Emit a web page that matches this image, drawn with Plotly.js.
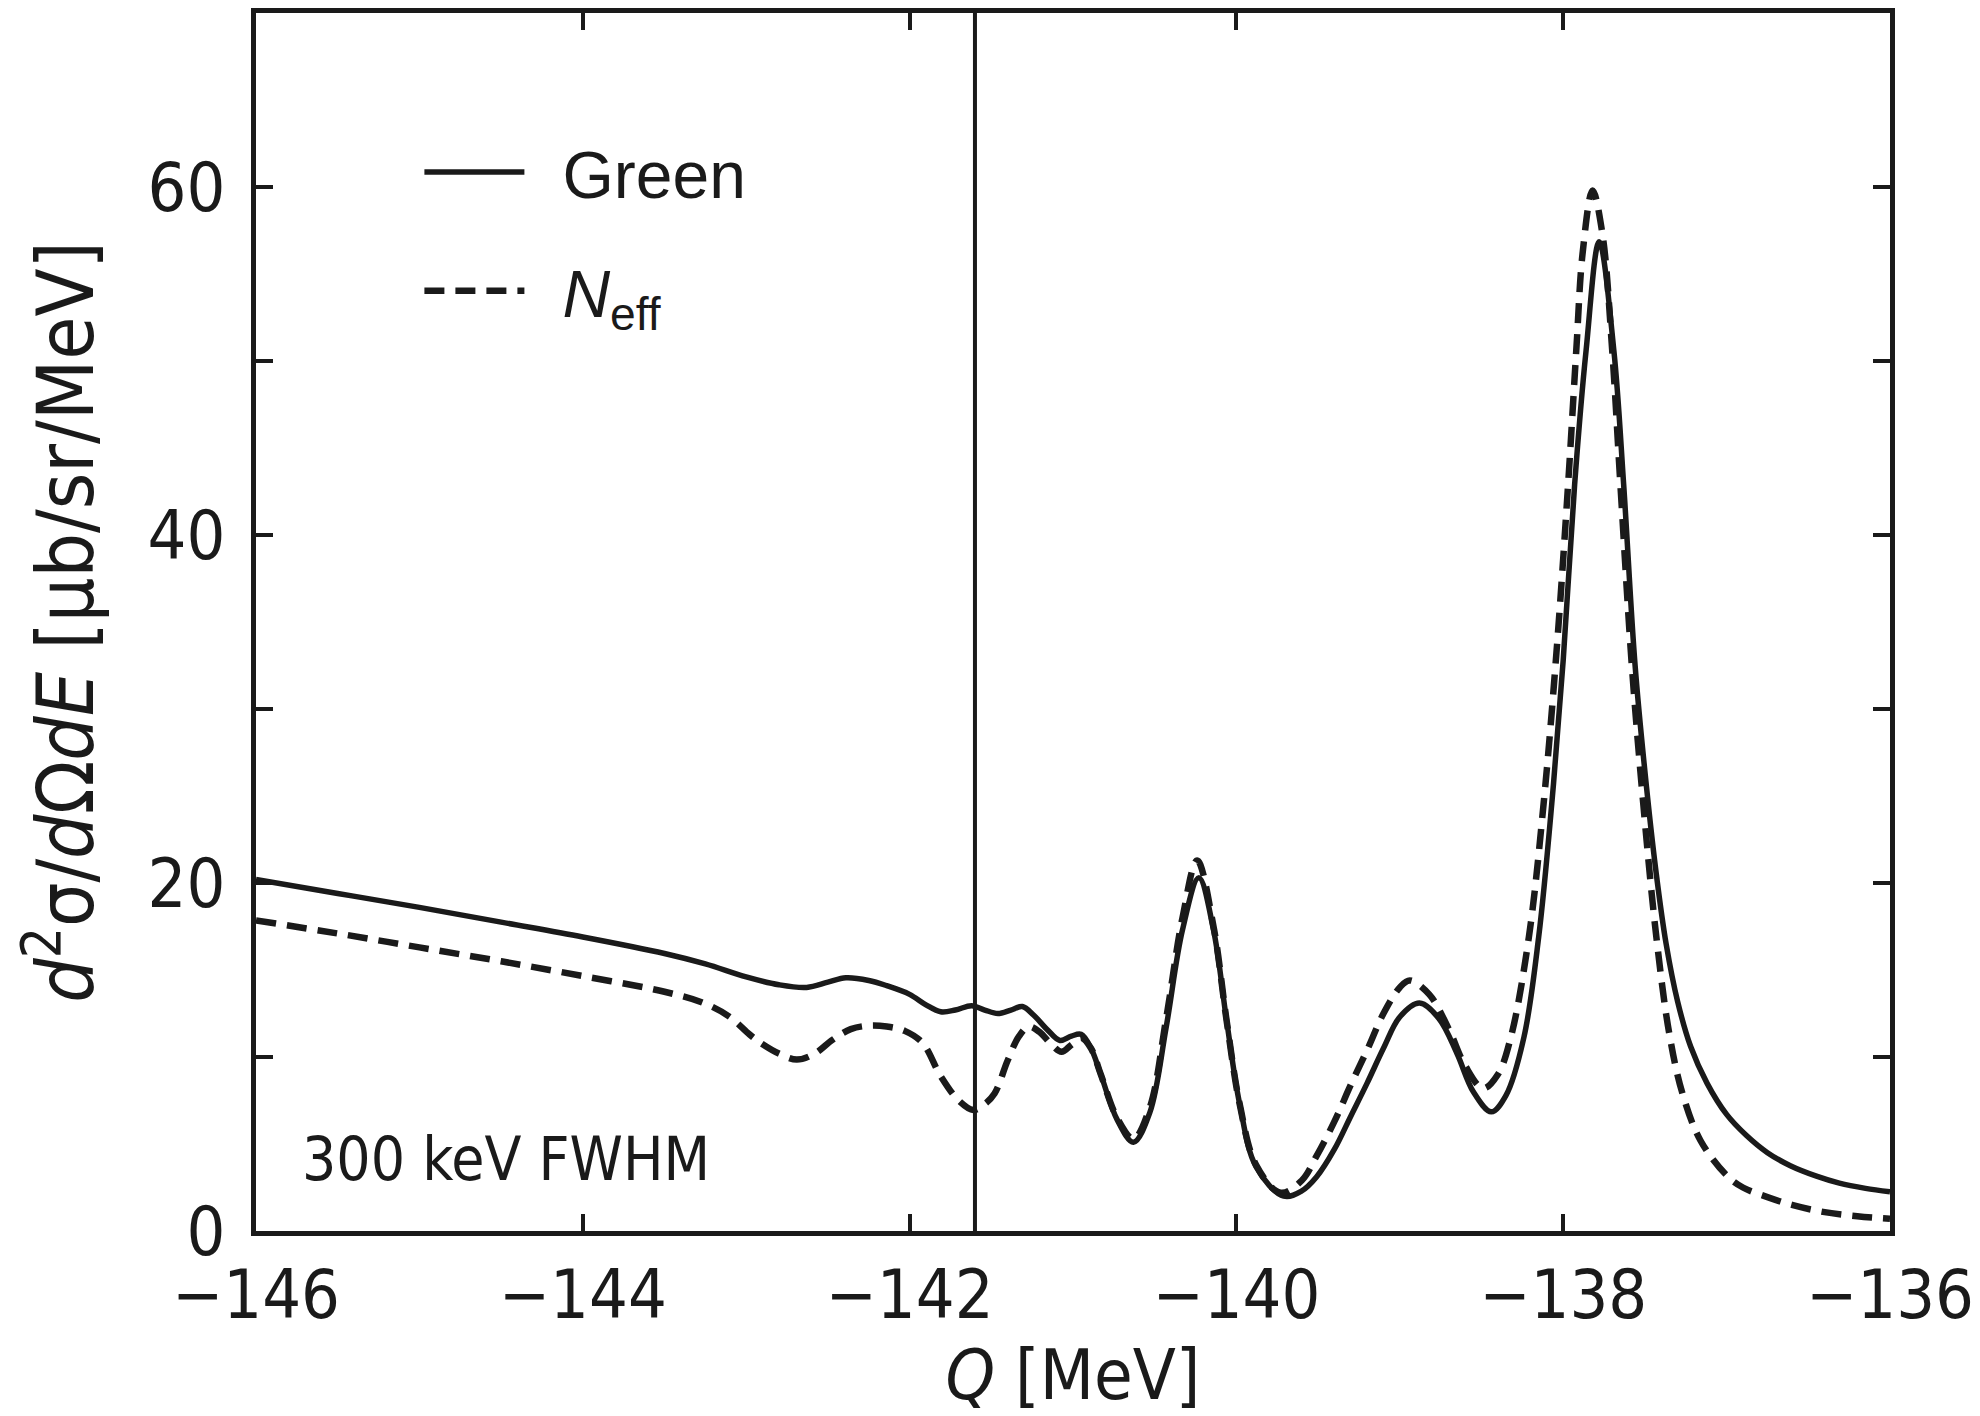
<!DOCTYPE html>
<html>
<head>
<meta charset="utf-8">
<script src="https://cdn.plot.ly/plotly-3.0.1.min.js"></script>
<style>
  html, body { margin: 0; padding: 0; background: #ffffff; }
  #chart { width: 1980px; height: 1416px; }
</style>
</head>
<body>
<div id="chart"></div>
<script>
// ---- Data ----
const greenQ = [-146.0, -145.5, -145.0, -144.5, -144.0, -143.5, -143.25, -143.0, -142.8, -142.63,
  -142.5, -142.39, -142.25, -142.14, -142.0, -141.9, -141.81, -141.72, -141.62, -141.54,
  -141.46, -141.38, -141.31, -141.24, -141.16, -141.08, -141.01, -140.95, -140.89, -140.83,
  -140.73, -140.63, -140.53, -140.43, -140.33, -140.23, -140.14, -140.06, -139.98, -139.88,
  -139.71, -139.6, -139.51, -139.4, -139.3, -139.2, -139.1, -139.0, -138.88, -138.76,
  -138.65, -138.55, -138.44, -138.35, -138.24, -138.15, -138.07, -138.0, -137.93, -137.86,
  -137.78, -137.69, -137.63, -137.56, -137.49, -137.43, -137.37, -137.3, -137.22, -137.12,
  -137.0, -136.88, -136.75, -136.61, -136.45, -136.31, -136.15, -136.0];
const greenY = [20.2, 19.4, 18.6, 17.75, 16.9, 15.95, 15.35, 14.6, 14.15, 14.0,
  14.3, 14.55, 14.4, 14.1, 13.6, 13.0, 12.6, 12.7, 12.95, 12.7,
  12.5, 12.7, 12.9, 12.4, 11.6, 10.95, 11.2, 11.3, 10.5, 9.0,
  6.4, 5.1, 6.8, 11.7, 17.3, 20.3, 17.3, 12.1, 7.3, 3.7,
  2.0, 2.3, 3.1, 4.7, 6.6, 8.5, 10.5, 12.3, 13.1, 12.2,
  10.2, 8.0, 6.85, 7.8, 11.15, 16.9, 24.55, 32.8, 42.9, 50.6,
  56.85, 50.6, 42.9, 32.5, 25.5, 20.5, 16.5, 13.2, 10.6, 8.5,
  6.7, 5.5, 4.5, 3.75, 3.15, 2.75, 2.45, 2.25];

const neffQ = [-146.0, -145.5, -145.0, -144.5, -144.0, -143.5, -143.26, -143.1, -142.98, -142.91,
  -142.8, -142.69, -142.58, -142.47, -142.36, -142.25, -142.14, -142.03, -141.92, -141.81,
  -141.7, -141.61, -141.54, -141.48, -141.4, -141.33, -141.27, -141.2, -141.14, -141.07,
  -141.01, -140.95, -140.89, -140.83, -140.73, -140.63, -140.53, -140.43, -140.33, -140.24,
  -140.14, -140.06, -139.98, -139.88, -139.73, -139.6, -139.51, -139.4, -139.3, -139.2,
  -139.1, -139.0, -138.94, -138.82, -138.7, -138.6, -138.49, -138.4, -138.32, -138.21,
  -138.12, -138.04, -137.97, -137.92, -137.88, -137.82, -137.76, -137.7, -137.65, -137.58,
  -137.51, -137.43, -137.35, -137.27, -137.16, -137.0, -136.9, -136.75, -136.6, -136.41,
  -136.2, -136.0];
const neffY = [17.85, 17.1, 16.3, 15.5, 14.65, 13.75, 13.1, 12.3, 11.3, 10.8,
  10.2, 9.85, 10.2, 11.0, 11.6, 11.8, 11.75, 11.5, 10.8, 8.9,
  7.5, 6.95, 7.3, 7.9, 9.8, 11.2, 11.75, 11.4, 10.8, 10.3,
  10.7, 11.1, 10.5, 9.0, 6.5, 5.3, 7.1, 12.2, 18.0, 21.3,
  17.5, 12.1, 7.3, 3.8, 2.2, 2.9, 4.3, 6.3, 8.4, 10.4,
  12.5, 14.0, 14.4, 13.6, 11.6, 9.5, 8.2, 9.0, 11.15, 16.9,
  24.55, 33.4, 42.9, 50.6, 56.3, 59.8, 57.3, 50.6, 42.9, 32.5,
  24.55, 16.9, 11.3, 7.9, 5.2, 3.2, 2.5, 1.95, 1.5, 1.1,
  0.85, 0.7];

const thresholdQ = -141.6;
const xTickVals = [-146, -144, -142, -140, -138, -136];
const yTickVals = [0, 10, 20, 30, 40, 50, 60];
const yTickText = ['0', '', '20', '', '40', '', '60'];
const xRange = [-146, -136];
const yRange = [0, 70];

const labelSeries = ['\u2002Green', '\u2002<i>N</i><sub>eff</sub>'];
const noteText = '300 keV FWHM';

// ---- Styling ----
const ink = '#1a1a1a';
const narrow = '"DejaVu Sans Condensed", "Liberation Sans Narrow", sans-serif';
const regular = '"Liberation Sans", "Noto Sans", sans-serif';

const traces = [
  {
    x: greenQ, y: greenY, type: 'scatter', mode: 'lines',
    name: labelSeries[0], legendgroup: 'g1',
    line: { color: ink, width: 5.5, shape: 'spline', smoothing: 1 }
  },
  {
    x: neffQ, y: neffY, type: 'scatter', mode: 'lines',
    name: labelSeries[1], legendgroup: 'g2',
    line: { color: ink, width: 6.5, dash: '20px,11px', shape: 'spline', smoothing: 1 }
  }
];

const axisCommon = {
  showgrid: false, zeroline: false,
  showline: true, linecolor: ink, linewidth: 5, mirror: 'ticks',
  ticks: 'inside', ticklen: 17, tickwidth: 4, tickcolor: ink,
  tickfont: { family: narrow, size: 68, color: ink },
  ticklabeloverflow: 'allow'
};

const layout = {
  width: 1980, height: 1416,
  paper_bgcolor: '#ffffff', plot_bgcolor: '#ffffff',
  margin: { l: 256, r: 90, t: 13, b: 185 },
  showlegend: true,
  legend: {
    x: 0.1, y: 0.91, xanchor: 'left', yanchor: 'top',
    bgcolor: 'rgba(0,0,0,0)', borderwidth: 0,
    font: { family: regular, size: 66, color: ink },
    itemwidth: 100, tracegroupgap: 30
  },
  xaxis: Object.assign({}, axisCommon, {
    range: xRange, tickmode: 'array', tickvals: xTickVals,
    title: { text: '<i>Q</i> [MeV]', font: { family: narrow, size: 70, color: ink }, standoff: 8 }
  }),
  yaxis: Object.assign({}, axisCommon, {
    range: yRange, tickmode: 'array', tickvals: yTickVals, ticktext: yTickText,
    ticklabelstandoff: 12,
    title: { text: '<i>d</i><sup>2</sup>σ/<i>d</i>Ω<i>dE</i> [μb/sr/MeV]', font: { family: narrow, size: 78, color: ink }, standoff: 30 }
  }),
  shapes: [
    { type: 'line', xref: 'x', yref: 'paper', x0: thresholdQ, x1: thresholdQ, y0: 0, y1: 1,
      line: { color: ink, width: 4 } }
  ],
  annotations: [
    { text: noteText, xref: 'paper', yref: 'paper', x: 0.027, y: 0.059,
      xanchor: 'left', yanchor: 'middle', showarrow: false,
      font: { family: narrow, size: 60, color: ink } }
  ]
};

Plotly.newPlot('chart', traces, layout, { displayModeBar: false, staticPlot: true });
</script>
</body>
</html>
